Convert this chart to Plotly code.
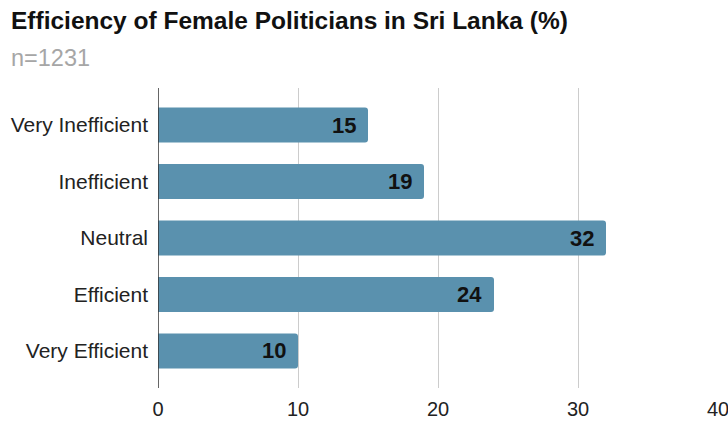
import plotly.graph_objects as go

categories = ["Very Inefficient", "Inefficient", "Neutral", "Efficient", "Very Efficient"]
values = [15, 19, 32, 24, 10]
x_ticks = [0, 10, 20, 30, 40]

bar_color = "#5a91ae"
FONT = "Liberation Sans, Arial, sans-serif"

W, H = 728, 421
M = dict(l=158, r=10, t=88, b=33)

fig = go.Figure()
fig.add_trace(go.Bar(
    y=categories,
    x=values,
    orientation="h",
    marker=dict(color=bar_color, cornerradius=3, line=dict(width=0)),
    width=0.62,
    hoverinfo="skip",
))

# value labels inside the right end of each bar
for cat, val in zip(categories, values):
    fig.add_annotation(
        x=val, y=cat, xref="x", yref="y",
        text=f"<b>{val}</b>", showarrow=False,
        xanchor="right", xshift=-10,
        font=dict(family=FONT, size=22, color="#111111"),
    )

fig.update_layout(
    width=W, height=H,
    margin=dict(**M, pad=0),
    paper_bgcolor="white", plot_bgcolor="white",
    showlegend=False,
    font=dict(family=FONT, color="#222222"),
    xaxis=dict(
        range=[0, 40], tickvals=x_ticks, showgrid=True,
        gridcolor="#cccccc", gridwidth=1.3, zeroline=False,
        showline=False, tickfont=dict(size=20, family=FONT, color="#222222"),
        ticks="outside", ticklen=3, tickcolor="rgba(0,0,0,0)",
        automargin=False, ticklabeloverflow="allow",
    ),
    yaxis=dict(
        categoryorder="array", categoryarray=categories[::-1],
        range=[-0.655, 4.655], showgrid=False, zeroline=False,
        showline=False, ticks="", ticklabelstandoff=9,
        tickfont=dict(size=21, family=FONT, color="#222222"),
        automargin=False, ticklabeloverflow="allow",
    ),
    shapes=[dict(type="line", xref="x", yref="paper", x0=0, x1=0, y0=0, y1=1,
                 line=dict(color="#333333", width=1.5))],
)


def px_to_paper(px, py):
    """Convert page pixel coordinates into paper coordinates."""
    pw = W - M["l"] - M["r"]
    ph = H - M["t"] - M["b"]
    return (px - M["l"]) / pw, 1 + (M["t"] - py) / ph


tx, ty = px_to_paper(9, 21)
fig.add_annotation(
    x=tx, y=ty, xref="paper", yref="paper",
    text="<b>Efficiency of Female Politicians in Sri Lanka (%)</b>",
    showarrow=False, xanchor="left", yanchor="middle",
    font=dict(family=FONT, size=24.5, color="#111111"),
)
sx, sy = px_to_paper(9, 58)
fig.add_annotation(
    x=sx, y=sy, xref="paper", yref="paper", text="n=1231",
    showarrow=False, xanchor="left", yanchor="middle",
    font=dict(family=FONT, size=23.5, color="#a6a6a6"),
)

fig.write_html("out.html")
